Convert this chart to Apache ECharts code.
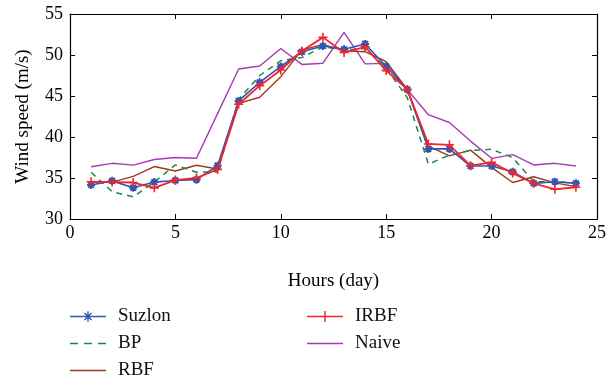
<!DOCTYPE html>
<html>
<head>
<meta charset="utf-8">
<script src="https://cdn.jsdelivr.net/npm/echarts@6/dist/echarts.min.js"></script>
<style>
  html, body { margin: 0; padding: 0; background: #fff; }
  #chart { width: 609px; height: 383px; }
</style>
</head>
<body>
<div id="chart"></div>
<script>
// Hourly wind speed (m/s) over one day: measured Suzlon data and model forecasts
const hours = [1, 2, 3, 4, 5, 6, 7, 8, 9, 10, 11, 12, 13, 14, 15, 16, 17, 18, 19, 20, 21, 22, 23, 24];
const suzlon = [34.15, 34.65, 33.82, 34.5, 34.7, 34.8, 36.5, 44.4, 46.67, 48.6, 50.4, 51.1, 50.7, 51.35, 48.6, 45.8, 38.55, 38.55, 36.46, 36.46, 35.75, 34.35, 34.55, 34.35];
const bp = [35.7, 33.33, 32.7, 34.5, 36.6, 35.7, 35.77, 44.6, 47.5, 49.3, 49.7, 51.0, 50.6, 50.8, 48.4, 44.8, 36.7, 37.8, 38.35, 38.5, 37.5, 34.55, 34.55, 34.43];
const rbf = [34.5, 34.5, 35.2, 36.4, 35.85, 36.55, 36.1, 44.1, 44.85, 47.36, 50.6, 51.3, 50.5, 50.4, 49.2, 45.8, 38.9, 37.7, 38.4, 36.3, 34.45, 35.15, 34.4, 33.95];
const irbf = [34.55, 34.5, 34.45, 33.8, 34.75, 35.0, 36.05, 44.0, 46.26, 48.17, 50.5, 52.15, 50.3, 51.0, 48.1, 45.8, 39.15, 39.05, 36.5, 36.9, 35.6, 34.35, 33.62, 33.87];
const naive = [36.38, 36.79, 36.57, 37.25, 37.5, 37.4, 42.85, 48.3, 48.66, 50.8, 48.85, 49.0, 52.75, 48.92, 48.98, 45.8, 42.72, 41.77, 39.5, 37.4, 37.85, 36.59, 36.79, 36.46];

const xTicks = [0, 5, 10, 15, 20, 25];
const yTicks = [30, 35, 40, 45, 50, 55];

const pair = (vals) => hours.map((h, i) => [h, vals[i]]);

const FONT = '"Liberation Serif", "DejaVu Serif", serif';
const ASTERISK = 'path://M0,-5L0,5M-5,0L5,0M-3.6,-3.6L3.6,3.6M-3.6,3.6L3.6,-3.6';
const PLUS = 'path://M0,-5L0,5M-5,0L5,0';

// Legend keys drawn in a 36x14 box (corner moveTo points pin the box size)
const BOX = 'M0,0M36,14';
const BAR = 'M0,6.3h36v1.4h-36z';
const KEY_LINE = 'path://' + BOX + BAR;
const KEY_DASH = 'path://' + BOX + 'M0,6.3h8v1.4h-8zM14,6.3h8v1.4h-8zM28,6.3h8v1.4h-8z';
const KEY_ASTERISK = 'path://' + BOX + BAR +
  'M17.3,1.8h1.4v10.4h-1.4z' +
  'M15.0,3.0L22.0,10.0L21.0,11.0L14.0,4.0z' +
  'M14.0,10.0L21.0,3.0L22.0,4.0L15.0,11.0z';
const KEY_PLUS = 'path://' + BOX + BAR + 'M17.3,1.5h1.4v11h-1.4z';

const frameAxis = {
  axisLine: { show: true, onZero: false, lineStyle: { color: '#000', width: 1.2 } },
  axisTick: { show: true, inside: true, length: 5, lineStyle: { color: '#000', width: 1 } },
  splitLine: { show: false }
};

const legendBase = {
  orient: 'vertical', top: 307, padding: 0, height: 120,
  itemWidth: 36, itemHeight: 14, itemGap: 8,
  itemStyle: { borderWidth: 0 },
  textStyle: { fontFamily: FONT, fontSize: 19, lineHeight: 14, color: '#111', padding: [0, 0, 0, 7] }
};

const chart = echarts.init(document.getElementById('chart'), null, { renderer: 'canvas' });
chart.setOption({
  animation: false,
  backgroundColor: '#fff',
  textStyle: { fontFamily: FONT },
  grid: { left: 70, right: 10, top: 14, bottom: 164, containLabel: false },
  xAxis: [
    Object.assign({}, frameAxis, {
      type: 'value', position: 'bottom',
      min: xTicks[0], max: xTicks[xTicks.length - 1], interval: 5,
      name: 'Hours (day)', nameLocation: 'middle', nameGap: 53,
      nameTextStyle: { fontFamily: FONT, fontSize: 19, color: '#000' },
      axisLabel: { show: true, fontFamily: FONT, fontSize: 18, color: '#000', margin: 5 }
    }),
    Object.assign({}, frameAxis, {
      type: 'value', position: 'top',
      min: xTicks[0], max: xTicks[xTicks.length - 1], interval: 5,
      axisLabel: { show: false }
    })
  ],
  yAxis: [
    Object.assign({}, frameAxis, {
      type: 'value', position: 'left',
      min: yTicks[0], max: yTicks[yTicks.length - 1], interval: 5,
      name: 'Wind speed (m/s)', nameLocation: 'middle', nameGap: 37,
      nameTextStyle: { fontFamily: FONT, fontSize: 19, color: '#000' },
      axisLabel: { show: true, fontFamily: FONT, fontSize: 18, color: '#000', margin: 7 }
    }),
    Object.assign({}, frameAxis, {
      type: 'value', position: 'right',
      min: yTicks[0], max: yTicks[yTicks.length - 1], interval: 5,
      axisLabel: { show: false }
    })
  ],
  legend: [
    Object.assign({}, legendBase, {
      left: 70,
      data: [
        { name: 'Suzlon', icon: KEY_ASTERISK },
        { name: 'BP', icon: KEY_DASH },
        { name: 'RBF', icon: KEY_LINE }
      ]
    }),
    Object.assign({}, legendBase, {
      left: 307,
      data: [
        { name: 'IRBF', icon: KEY_PLUS },
        { name: 'Naive', icon: KEY_LINE }
      ]
    })
  ],
  series: [
    {
      name: 'Naive', type: 'line', data: pair(naive),
      symbol: 'none', color: '#a43cb4',
      lineStyle: { color: '#a43cb4', width: 1.4 }, z: 2
    },
    {
      name: 'RBF', type: 'line', data: pair(rbf),
      symbol: 'none', color: '#9e3a1c',
      lineStyle: { color: '#9e3a1c', width: 1.4 }, z: 3
    },
    {
      name: 'BP', type: 'line', data: pair(bp),
      symbol: 'none', color: '#1d8a3e',
      lineStyle: { color: '#1d8a3e', width: 1.5, type: [6, 5] }, z: 4
    },
    {
      name: 'Suzlon', type: 'line', data: pair(suzlon),
      symbol: ASTERISK, symbolSize: 8, color: '#2f55b5',
      lineStyle: { color: '#2f55b5', width: 1.6 },
      itemStyle: { color: '#2f55b5', borderColor: '#2f55b5', borderWidth: 2 }, z: 5
    },
    {
      name: 'IRBF', type: 'line', data: pair(irbf),
      symbol: PLUS, symbolSize: 9, color: '#f4252a',
      lineStyle: { color: '#f4252a', width: 1.8 },
      itemStyle: { color: '#f4252a', borderColor: '#f4252a', borderWidth: 1.6 }, z: 6
    }
  ]
});
</script>
</body>
</html>
